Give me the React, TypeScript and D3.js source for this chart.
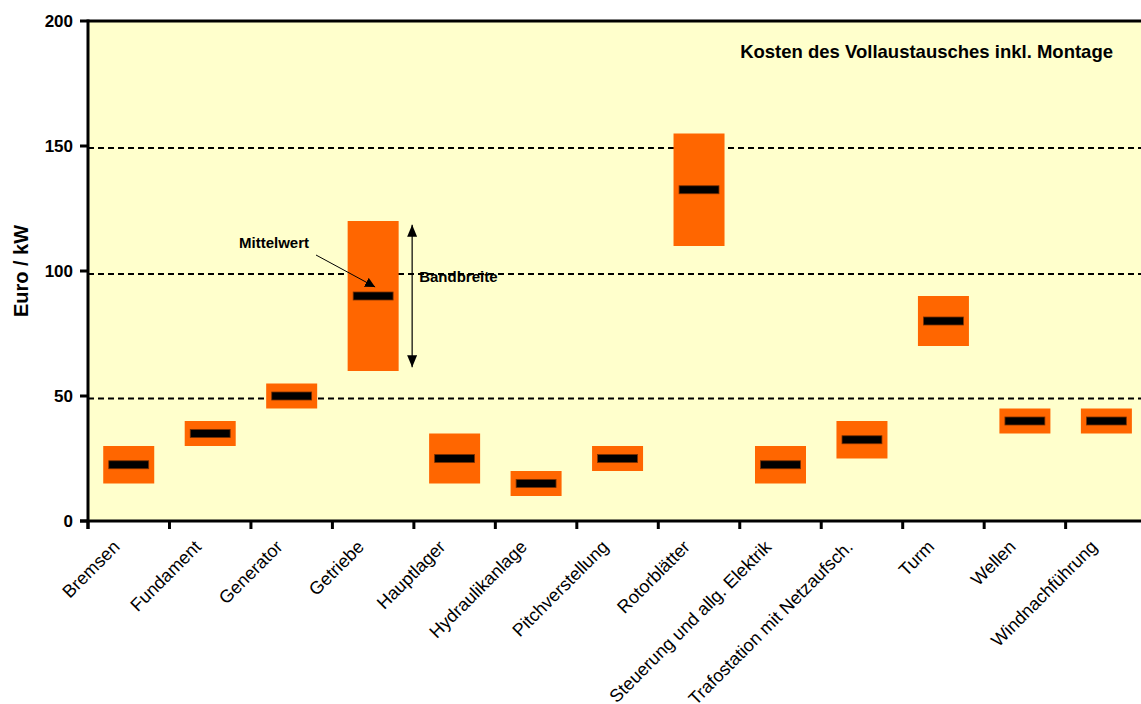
import React from "react";
import * as d3 from "d3";

const categories = [
  "Bremsen",
  "Fundament",
  "Generator",
  "Getriebe",
  "Hauptlager",
  "Hydraulikanlage",
  "Pitchverstellung",
  "Rotorblätter",
  "Steuerung und allg. Elektrik",
  "Trafostation mit Netzaufsch.",
  "Turm",
  "Wellen",
  "Windnachführung",
];
const lowValues = [15, 30, 45, 60, 15, 10, 20, 110, 15, 25, 70, 35, 35];
const highValues = [30, 40, 55, 120, 35, 20, 30, 155, 30, 40, 90, 45, 45];
const meanValues = [22.5, 35, 50, 90, 25, 15, 25, 132.5, 22.5, 32.5, 80, 40, 40];
const yTicks = [0, 50, 100, 150, 200];
const gridValues = [49, 98.8, 149.2];

const W = 1141;
const H = 704;
const left = 88;
const top = 21;
const bottom = 521;
const bandW = 81.47;

export default function App() {
  const x = d3
    .scaleBand<string>()
    .domain(categories)
    .range([left, left + bandW * categories.length])
    .paddingInner(0)
    .paddingOuter(0);
  const y = d3.scaleLinear().domain([0, 200]).range([bottom, top]);
  const bw = x.bandwidth();
  const boxW = bw * 0.626;
  const meanW = bw * 0.49;
  const meanH = 8;
  const font = "Arial, 'Liberation Sans', sans-serif";

  const gx = (x("Getriebe") as number) + bw / 2;
  const arrowX = gx + 39;
  const bTop = y(118.5);
  const bBot = y(61.5);

  return (
    <svg
      width={W}
      height={H}
      style={{ position: "absolute", left: 0, top: 0, display: "block" }}
      fontFamily={font}
    >
      <defs>
        <marker id="ah" viewBox="0 0 10 10" refX="10" refY="5" markerWidth="10" markerHeight="10" markerUnits="userSpaceOnUse" orient="auto-start-reverse">
          <path d="M0,0 L10,5 L0,10 z" fill="#000" />
        </marker>
        <marker id="ah2" viewBox="0 0 12 10" refX="12" refY="5" markerWidth="12" markerHeight="10" markerUnits="userSpaceOnUse" orient="auto-start-reverse">
          <path d="M0,0 L12,5 L0,10 z" fill="#000" />
        </marker>
      </defs>
      <rect x={0} y={0} width={W} height={H} fill="#fff" />
      <rect x={left} y={top} width={W - left} height={bottom - top} fill="#FFFFCC" />

      {gridValues.map((g) => (
        <line
          key={g}
          x1={left}
          x2={W}
          y1={y(g)}
          y2={y(g)}
          stroke="#000"
          strokeWidth={2}
          strokeDasharray="6,4"
        />
      ))}

      {categories.map((c, i) => {
        const cx = (x(c) as number) + bw / 2;
        return (
          <g key={c}>
            <rect
              x={cx - boxW / 2}
              y={y(highValues[i])}
              width={boxW}
              height={y(lowValues[i]) - y(highValues[i])}
              fill="#FF6600"
            />
            <rect
              x={cx - meanW / 2}
              y={y(meanValues[i]) - meanH / 2}
              width={meanW}
              height={meanH}
              fill="#000"
              stroke="#7a3000"
              strokeWidth={0.8}
            />
          </g>
        );
      })}

      <line x1={left} x2={W} y1={top} y2={top} stroke="#000" strokeWidth={3} />
      <line x1={left} x2={left} y1={top - 1.5} y2={bottom + 8} stroke="#000" strokeWidth={3} />
      <line x1={left - 8} x2={W} y1={bottom} y2={bottom} stroke="#000" strokeWidth={3} />

      {yTicks.map((t) => (
        <g key={t}>
          <line x1={left - 8} x2={left} y1={y(t)} y2={y(t)} stroke="#000" strokeWidth={3} />
          <text
            x={left - 15}
            y={y(t)}
            textAnchor="end"
            dominantBaseline="central"
            fontSize={17}
            fontWeight="bold"
          >
            {t}
          </text>
        </g>
      ))}

      {categories.map((c) => (
        <line
          key={"t" + c}
          x1={x(c) as number}
          x2={x(c) as number}
          y1={bottom}
          y2={bottom + 8}
          stroke="#000"
          strokeWidth={3}
        />
      ))}
      <line
        x1={(x(categories[categories.length - 1]) as number) + bw}
        x2={(x(categories[categories.length - 1]) as number) + bw}
        y1={bottom}
        y2={bottom + 8}
        stroke="#000"
        strokeWidth={3}
      />

      {categories.map((c) => {
        const cx = (x(c) as number) + bw / 2;
        const tx = cx - 8;
        const ty = bottom + 27;
        return (
          <text
            key={"l" + c}
            x={tx}
            y={ty}
            textAnchor="end"
            fontSize={18}
            transform={`rotate(-45 ${tx} ${ty})`}
          >
            {c}
          </text>
        );
      })}

      <text
        transform={`translate(28 ${(top + bottom) / 2}) rotate(-90)`}
        textAnchor="middle"
        fontSize={20}
        fontWeight="bold"
      >
        Euro / kW
      </text>

      <text x={1113} y={58} textAnchor="end" fontSize={18.5} fontWeight="bold">
        Kosten des Vollaustausches inkl. Montage
      </text>

      <text x={239} y={248} fontSize={15} fontWeight="bold">
        Mittelwert
      </text>
      <line
        x1={316}
        y1={255}
        x2={gx + 0.5 * (meanW / 2) - 8}
        y2={y(meanValues[3]) - 9}
        stroke="#000"
        strokeWidth={1}
        markerEnd="url(#ah)"
      />
      <line
        x1={arrowX}
        x2={arrowX}
        y1={bTop}
        y2={bBot}
        stroke="#000"
        strokeWidth={1.2}
        markerStart="url(#ah2)"
        markerEnd="url(#ah2)"
      />
      <text x={arrowX + 7} y={282} fontSize={15} fontWeight="bold">
        Bandbreite
      </text>
    </svg>
  );
}
